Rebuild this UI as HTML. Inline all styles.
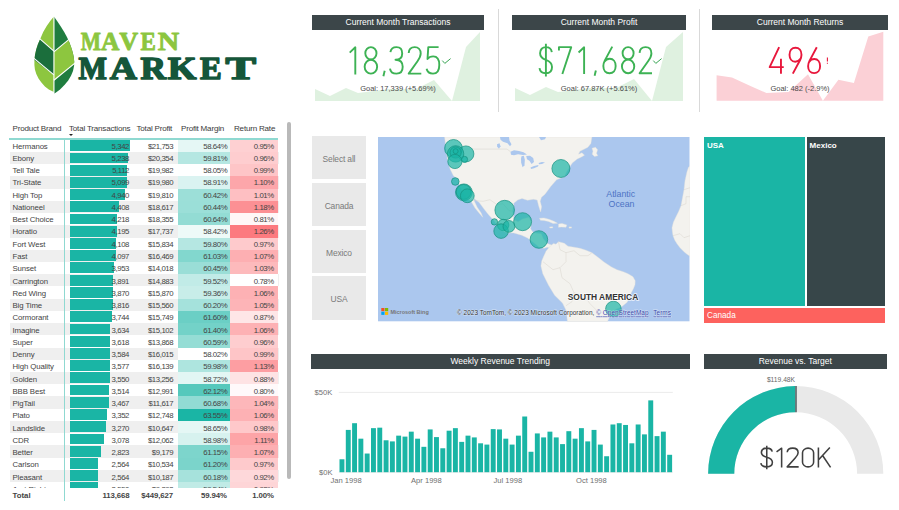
<!DOCTYPE html>
<html><head><meta charset="utf-8"><title>Maven Market</title>
<style>
html,body{margin:0;padding:0;background:#fff;}
body{width:899px;height:510px;position:relative;overflow:hidden;font-family:"Liberation Sans",sans-serif;color:#333;}
.abs{position:absolute;}
.tbar{position:absolute;background:#3c4649;color:#fff;font-size:8.5px;text-align:center;line-height:14.6px;height:15px;}
.kv{position:absolute;text-align:center;font-size:39px;letter-spacing:-0.5px;white-space:nowrap;}
.kg{position:absolute;text-align:center;font-size:7.5px;color:#4a4a4a;white-space:nowrap;}
.row{position:absolute;left:10px;width:269px;height:12.22px;}
.c{position:absolute;top:0;height:12.22px;line-height:15px;font-size:7.8px;letter-spacing:-0.1px;white-space:nowrap;color:#444;}
.n{letter-spacing:-0.42px;}
.r{text-align:right;}
.sl{position:absolute;left:312.1px;width:53.8px;background:#e9e9e9;color:#7a7a7a;font-size:8.45px;letter-spacing:-0.15px;text-align:center;}
</style></head><body>

<svg class="abs" style="left:0;top:0" width="300" height="110" viewBox="0 0 300 110">
<defs><clipPath id="lh"><polygon points="53.9,16.6 50.4,20.8 46.7,26 43.2,32 40.3,38.7 37.9,44.2 36.2,49.5 35,55 34.4,60.3 34.4,65 34.9,69.4 36.3,74 38.5,78.4 41.4,82.6 44.9,86.5 48.8,89.4 53.9,92"/></clipPath><clipPath id="rh"><polygon points="53.9,16.6 57.8,22 61.1,27 64.2,32 66.9,36.9 69.2,42 71,46.8 72.6,52 73.7,56.7 74.2,61.5 74.1,65.8 73,71 71,75.7 68.2,80.4 64.7,84.7 60,89.4 54.6,93.4 53.9,93.2"/></clipPath></defs>
<g clip-path="url(#lh)">
<rect x="30" y="10" width="24" height="90" fill="#8dc63f"/>
<polygon points="30,30.1 53.9,51.1 53.9,75 30,56.6" fill="#1b6e3c"/>
</g>
<g clip-path="url(#rh)">
<rect x="53.9" y="10" width="24" height="90" fill="#1f7d3f"/>
<polygon points="53.9,51.9 78,31.9 78,60.7 53.9,80.4" fill="#8dc63f"/>
</g>
<g stroke="#fff" stroke-width="1.1" fill="none">
<path d="M53.95,16 L53.95,94"/>
<path d="M36.5,35.8 L53.9,51.1 M31,55.9 L53.9,74.9"/>
<path d="M53.9,51.9 L72,36.9 M53.9,80.3 L78,60.6"/>
</g>
<g font-family="Liberation Serif, serif" font-weight="bold" font-size="24.8" fill="#8cc63f" stroke="#8cc63f" stroke-width="0.8" stroke-linejoin="round"><text x="80.7" y="50.1" textLength="20.2" lengthAdjust="spacingAndGlyphs">M</text><text x="101.1" y="50.1" textLength="18.5" lengthAdjust="spacingAndGlyphs">A</text><text x="119.2" y="50.1" textLength="18.9" lengthAdjust="spacingAndGlyphs">V</text><text x="140.5" y="50.1" textLength="15.4" lengthAdjust="spacingAndGlyphs">E</text><text x="157.7" y="50.1" textLength="21.5" lengthAdjust="spacingAndGlyphs">N</text></g>
<g font-family="Liberation Serif, serif" font-weight="bold" font-size="31.2" fill="#15563a" stroke="#15563a" stroke-width="1.5" stroke-linejoin="round"><text x="78.5" y="78.8" textLength="28.4" lengthAdjust="spacingAndGlyphs">M</text><text x="109.8" y="78.8" textLength="27.2" lengthAdjust="spacingAndGlyphs">A</text><text x="140.5" y="78.8" textLength="25.5" lengthAdjust="spacingAndGlyphs">R</text><text x="167.7" y="78.8" textLength="28.7" lengthAdjust="spacingAndGlyphs">K</text><text x="199.9" y="78.8" textLength="21.7" lengthAdjust="spacingAndGlyphs">E</text><text x="225.5" y="78.8" textLength="30.5" lengthAdjust="spacingAndGlyphs">T</text></g>
</svg>
<div class="tbar" style="left:312px;top:15px;width:172px;">Current Month Transactions</div>
<svg class="abs" style="left:312px;top:30px" width="172" height="75" viewBox="0 0 172 75"><polygon points="3,59 18,66 34,58 46,63 62,61 77,59 104,59 122,50 140,71 154,17 168,2 168,71 3,71" fill="#dff1e0"/></svg>
<svg class="abs" style="left:0;top:0" width="899" height="110" viewBox="0 0 899 110"><g fill="none" stroke="#3db254" stroke-width="1.9" stroke-linejoin="round"><g transform="translate(349.1,46.4) scale(1.0000,1.0000)"><path d="M0.6,6.2 L6.2,0.9 L6.2,28" vector-effect="non-scaling-stroke"/></g><g transform="translate(363.9,46.4) scale(1.0000,1.0000)"><ellipse cx="7" cy="6.95" rx="5.6" ry="6.2" vector-effect="non-scaling-stroke"/><ellipse cx="7" cy="20.3" rx="6.25" ry="6.95" vector-effect="non-scaling-stroke"/></g><g transform="translate(383.0,46.4) scale(1.0000,1.0000)"><path d="M1.7,24.4 L0.4,29.8" vector-effect="non-scaling-stroke"/></g><g transform="translate(389.5,46.4) scale(1.0000,1.0000)"><path d="M0.9,5.8 C1.4,2.4 3.8,0.75 7,0.75 C10.6,0.75 12.7,3.2 12.7,7 C12.7,11 10.2,13.3 6,13.3 C10.6,13.3 13.2,16 13.2,20.4 C13.2,24.8 10.6,27.25 7,27.25 C3.4,27.25 0.9,25.4 0.5,22.2" vector-effect="non-scaling-stroke"/></g><g transform="translate(407.7,46.4) scale(1.0000,1.0000)"><path d="M1,6.6 C1.2,2.8 3.7,0.75 7,0.75 C10.6,0.75 13,3.2 13,7.2 C13,10 11.8,12 9.8,14.8 L1,27.25 L13.6,27.25" vector-effect="non-scaling-stroke"/></g><g transform="translate(426.0,46.4) scale(1.0000,1.0000)"><path d="M12.6,0.75 L2.3,0.75 L1.5,12.6 C2.8,10.8 4.8,10 7.2,10 C11,10 13.3,13.2 13.3,18.6 C13.3,24 10.9,27.25 7,27.25 C3.5,27.25 1.2,25.4 0.6,22.4" vector-effect="non-scaling-stroke"/></g></g><path d="M442.3,60.6 L444.8,63.4 L450.6,58.6" fill="none" stroke="#3aa655" stroke-width="1"/></svg>
<div class="kg" style="left:312px;width:172px;top:83.6px;">Goal: 17,339 (+5.69%)</div>
<div class="tbar" style="left:512px;top:15px;width:174px;">Current Month Profit</div>
<svg class="abs" style="left:512px;top:30px" width="174" height="75" viewBox="0 0 174 75"><polygon points="3,58 18,65 34,57 46,62 62,60 77,58 104,58 122,49 140,71 154,17 171,2 171,71 3,71" fill="#dff1e0"/></svg>
<svg class="abs" style="left:0;top:0" width="899" height="110" viewBox="0 0 899 110"><g fill="none" stroke="#3db254" stroke-width="1.9" stroke-linejoin="round"><g transform="translate(539.0,46.4) scale(0.9857,0.9857)"><path d="M13,5.8 C12.5,2.5 10.2,0.75 7,0.75 C3.5,0.75 1.1,3 1.1,7 C1.1,10.8 3.4,12.4 7,13.7 C10.6,15 13.2,16.6 13.2,20.8 C13.2,25 10.6,27.25 7,27.25 C3.4,27.25 1,25.4 0.5,22 M7,-2.6 L7,30.6" vector-effect="non-scaling-stroke"/></g><g transform="translate(558.2,46.4) scale(0.9857,0.9857)"><path d="M0.75,4.2 L0.75,0.75 L13.2,0.75 L4.2,28" vector-effect="non-scaling-stroke"/></g><g transform="translate(578.0,46.4) scale(0.9857,0.9857)"><path d="M0.6,6.2 L6.2,0.9 L6.2,28" vector-effect="non-scaling-stroke"/></g><g transform="translate(594.2,46.4) scale(0.9857,0.9857)"><path d="M1.7,24.4 L0.4,29.8" vector-effect="non-scaling-stroke"/></g><g transform="translate(602.6,46.4) scale(0.9857,0.9857)"><path d="M9.8,0.2 L2.3,14.2 C1.2,16.4 0.75,18 0.75,20 C0.75,24.4 3.2,27.25 7,27.25 C10.8,27.25 13.25,24.4 13.25,20 C13.25,15.6 10.9,12.6 7.3,12.6 C4.6,12.6 2.9,13.8 1.8,15.6" vector-effect="non-scaling-stroke"/></g><g transform="translate(621.2,46.4) scale(0.9857,0.9857)"><ellipse cx="7" cy="6.95" rx="5.6" ry="6.2" vector-effect="non-scaling-stroke"/><ellipse cx="7" cy="20.3" rx="6.25" ry="6.95" vector-effect="non-scaling-stroke"/></g><g transform="translate(638.6,46.4) scale(0.9857,0.9857)"><path d="M1,6.6 C1.2,2.8 3.7,0.75 7,0.75 C10.6,0.75 13,3.2 13,7.2 C13,10 11.8,12 9.8,14.8 L1,27.25 L13.6,27.25" vector-effect="non-scaling-stroke"/></g></g><path d="M653.3,60.6 L655.8,63.4 L661.6,58.6" fill="none" stroke="#3aa655" stroke-width="1"/></svg>
<div class="kg" style="left:512px;width:174px;top:83.6px;">Goal: 67.87K (+5.61%)</div>
<div class="tbar" style="left:712px;top:15px;width:176px;">Current Month Returns</div>
<svg class="abs" style="left:712px;top:30px" width="176" height="75" viewBox="0 0 176 75"><polygon points="4.6,45.3 20,47.5 39,56.3 54.4,63 76.6,61.9 96,44.2 110.9,70.7 126.4,49.7 141.9,53 156.3,6.5 171.3,1.7 171.3,70.7 4.6,70.7" fill="#fbd0d6"/></svg>
<svg class="abs" style="left:0;top:0" width="899" height="110" viewBox="0 0 899 110"><g fill="none" stroke="#e8173c" stroke-width="1.9" stroke-linejoin="round"><g transform="translate(769.0,47) scale(0.9571,0.9571)"><path d="M10.6,0.2 L0.7,21 L15.4,21 M12.5,12.3 L12.5,28" vector-effect="non-scaling-stroke"/></g><g transform="translate(788.8,47) scale(0.9571,0.9571)"><g transform="rotate(180 7 14)"><path d="M9.8,0.2 L2.3,14.2 C1.2,16.4 0.75,18 0.75,20 C0.75,24.4 3.2,27.25 7,27.25 C10.8,27.25 13.25,24.4 13.25,20 C13.25,15.6 10.9,12.6 7.3,12.6 C4.6,12.6 2.9,13.8 1.8,15.6" vector-effect="non-scaling-stroke"/></g></g><g transform="translate(807.4,47) scale(0.9571,0.9571)"><path d="M9.8,0.2 L2.3,14.2 C1.2,16.4 0.75,18 0.75,20 C0.75,24.4 3.2,27.25 7,27.25 C10.8,27.25 13.25,24.4 13.25,20 C13.25,15.6 10.9,12.6 7.3,12.6 C4.6,12.6 2.9,13.8 1.8,15.6" vector-effect="non-scaling-stroke"/></g></g><path d="M827.4,57.6 L827.4,61.6 M827.4,62.8 L827.4,63.8" fill="none" stroke="#e8173c" stroke-width="1.1"/></svg>
<div class="kg" style="left:712px;width:176px;top:83.6px;">Goal: 482 (-2.9%)</div>
<div class="abs" style="left:497.9px;top:9px;width:1px;height:103px;background:#d9d9d9"></div>
<div class="abs" style="left:698.7px;top:9px;width:1px;height:103px;background:#d9d9d9"></div>
<div class="abs" style="left:10px;top:121px;width:270px;height:18px;font-size:8.05px;letter-spacing:-0.2px;color:#3a3a3a;">
<span class="abs" style="left:2.5px;top:3px;white-space:nowrap">Product Brand</span>
<span class="abs" style="left:59px;top:3px;white-space:nowrap">Total Transactions</span>
<span class="abs" style="left:126.5px;top:3px;white-space:nowrap">Total Profit</span>
<span class="abs" style="left:171px;top:3px;white-space:nowrap">Profit Margin</span>
<span class="abs" style="left:224px;top:3px;white-space:nowrap">Return Rate</span>
<span class="abs" style="left:58.9px;top:13.1px;width:0;height:0;border-left:2.4px solid transparent;border-right:2.4px solid transparent;border-top:2.6px solid #222"></span>
</div>
<div class="abs" style="left:8.5px;top:138.3px;width:269.4px;height:1.4px;background:#8fd9d1"></div>
<div class="abs" style="left:0;top:139.8px;width:285px;height:348.59999999999997px;overflow:hidden">
<div class="row" style="top:0.00px;background:#ffffff">
<div class="abs" style="left:59.7px;top:0.5px;width:60.0px;height:10.8px;background:#1ab5a5"></div>
<div class="abs" style="left:168px;top:0;width:52.1px;height:12.22px;background:#e5f7f5"></div>
<div class="abs" style="left:220.1px;top:0;width:47.7px;height:12.22px;background:#fed0d2"></div>
<div class="c" style="left:2.5px;top:-1.20px">Hermanos</div>
<div class="c r n" style="left:59px;width:60px;top:-1.20px">5,342</div>
<div class="c r n" style="left:120px;width:43.2px;top:-1.20px">$21,753</div>
<div class="c r n" style="left:168px;width:49.2px;top:-1.20px">58.64%</div>
<div class="c r n" style="left:220.1px;width:43.7px;top:-1.20px">0.95%</div>
</div>
<div class="row" style="top:12.22px;background:#efefef">
<div class="abs" style="left:59.7px;top:0.5px;width:58.8px;height:10.8px;background:#1ab5a5"></div>
<div class="abs" style="left:168px;top:0;width:52.1px;height:12.22px;background:#b5e7e2"></div>
<div class="abs" style="left:220.1px;top:0;width:47.7px;height:12.22px;background:#fecdcf"></div>
<div class="c" style="left:2.5px;top:-1.16px">Ebony</div>
<div class="c r n" style="left:59px;width:60px;top:-1.16px">5,238</div>
<div class="c r n" style="left:120px;width:43.2px;top:-1.16px">$20,354</div>
<div class="c r n" style="left:168px;width:49.2px;top:-1.16px">59.81%</div>
<div class="c r n" style="left:220.1px;width:43.7px;top:-1.16px">0.96%</div>
</div>
<div class="row" style="top:24.44px;background:#ffffff">
<div class="abs" style="left:59.7px;top:0.5px;width:57.4px;height:10.8px;background:#1ab5a5"></div>
<div class="abs" style="left:168px;top:0;width:52.1px;height:12.22px;background:#feffff"></div>
<div class="abs" style="left:220.1px;top:0;width:47.7px;height:12.22px;background:#fec5c7"></div>
<div class="c" style="left:2.5px;top:-1.11px">Tell Tale</div>
<div class="c r n" style="left:59px;width:60px;top:-1.11px">5,112</div>
<div class="c r n" style="left:120px;width:43.2px;top:-1.11px">$19,982</div>
<div class="c r n" style="left:168px;width:49.2px;top:-1.11px">58.05%</div>
<div class="c r n" style="left:220.1px;width:43.7px;top:-1.11px">0.99%</div>
</div>
<div class="row" style="top:36.66px;background:#efefef">
<div class="abs" style="left:59.7px;top:0.5px;width:57.3px;height:10.8px;background:#1ab5a5"></div>
<div class="abs" style="left:168px;top:0;width:52.1px;height:12.22px;background:#daf3f1"></div>
<div class="abs" style="left:220.1px;top:0;width:47.7px;height:12.22px;background:#fda6aa"></div>
<div class="c" style="left:2.5px;top:-1.07px">Tri-State</div>
<div class="c r n" style="left:59px;width:60px;top:-1.07px">5,099</div>
<div class="c r n" style="left:120px;width:43.2px;top:-1.07px">$19,980</div>
<div class="c r n" style="left:168px;width:49.2px;top:-1.07px">58.91%</div>
<div class="c r n" style="left:220.1px;width:43.7px;top:-1.07px">1.10%</div>
</div>
<div class="row" style="top:48.88px;background:#ffffff">
<div class="abs" style="left:59.7px;top:0.5px;width:55.5px;height:10.8px;background:#1ab5a5"></div>
<div class="abs" style="left:168px;top:0;width:52.1px;height:12.22px;background:#9cdfd8"></div>
<div class="abs" style="left:220.1px;top:0;width:47.7px;height:12.22px;background:#febfc2"></div>
<div class="c" style="left:2.5px;top:-1.02px">High Top</div>
<div class="c r n" style="left:59px;width:60px;top:-1.02px">4,940</div>
<div class="c r n" style="left:120px;width:43.2px;top:-1.02px">$19,810</div>
<div class="c r n" style="left:168px;width:49.2px;top:-1.02px">60.42%</div>
<div class="c r n" style="left:220.1px;width:43.7px;top:-1.02px">1.01%</div>
</div>
<div class="row" style="top:61.10px;background:#efefef">
<div class="abs" style="left:59.7px;top:0.5px;width:49.5px;height:10.8px;background:#1ab5a5"></div>
<div class="abs" style="left:168px;top:0;width:52.1px;height:12.22px;background:#9bdfd8"></div>
<div class="abs" style="left:220.1px;top:0;width:47.7px;height:12.22px;background:#fc9094"></div>
<div class="c" style="left:2.5px;top:-0.98px">Nationeel</div>
<div class="c r n" style="left:59px;width:60px;top:-0.98px">4,408</div>
<div class="c r n" style="left:120px;width:43.2px;top:-0.98px">$18,617</div>
<div class="c r n" style="left:168px;width:49.2px;top:-0.98px">60.44%</div>
<div class="c r n" style="left:220.1px;width:43.7px;top:-0.98px">1.18%</div>
</div>
<div class="row" style="top:73.32px;background:#ffffff">
<div class="abs" style="left:59.7px;top:0.5px;width:47.4px;height:10.8px;background:#1ab5a5"></div>
<div class="abs" style="left:168px;top:0;width:52.1px;height:12.22px;background:#93dcd4"></div>
<div class="abs" style="left:220.1px;top:0;width:47.7px;height:12.22px;background:#fff7f7"></div>
<div class="c" style="left:2.5px;top:-0.93px">Best Choice</div>
<div class="c r n" style="left:59px;width:60px;top:-0.93px">4,218</div>
<div class="c r n" style="left:120px;width:43.2px;top:-0.93px">$18,355</div>
<div class="c r n" style="left:168px;width:49.2px;top:-0.93px">60.64%</div>
<div class="c r n" style="left:220.1px;width:43.7px;top:-0.93px">0.81%</div>
</div>
<div class="row" style="top:85.54px;background:#efefef">
<div class="abs" style="left:59.7px;top:0.5px;width:47.1px;height:10.8px;background:#1ab5a5"></div>
<div class="abs" style="left:168px;top:0;width:52.1px;height:12.22px;background:#eefaf8"></div>
<div class="abs" style="left:220.1px;top:0;width:47.7px;height:12.22px;background:#fc7a7f"></div>
<div class="c" style="left:2.5px;top:-0.89px">Horatio</div>
<div class="c r n" style="left:59px;width:60px;top:-0.89px">4,195</div>
<div class="c r n" style="left:120px;width:43.2px;top:-0.89px">$17,737</div>
<div class="c r n" style="left:168px;width:49.2px;top:-0.89px">58.42%</div>
<div class="c r n" style="left:220.1px;width:43.7px;top:-0.89px">1.26%</div>
</div>
<div class="row" style="top:97.76px;background:#ffffff">
<div class="abs" style="left:59.7px;top:0.5px;width:46.1px;height:10.8px;background:#1ab5a5"></div>
<div class="abs" style="left:168px;top:0;width:52.1px;height:12.22px;background:#b5e7e2"></div>
<div class="abs" style="left:220.1px;top:0;width:47.7px;height:12.22px;background:#fecacc"></div>
<div class="c" style="left:2.5px;top:-0.84px">Fort West</div>
<div class="c r n" style="left:59px;width:60px;top:-0.84px">4,108</div>
<div class="c r n" style="left:120px;width:43.2px;top:-0.84px">$15,834</div>
<div class="c r n" style="left:168px;width:49.2px;top:-0.84px">59.80%</div>
<div class="c r n" style="left:220.1px;width:43.7px;top:-0.84px">0.97%</div>
</div>
<div class="row" style="top:109.98px;background:#efefef">
<div class="abs" style="left:59.7px;top:0.5px;width:46.0px;height:10.8px;background:#1ab5a5"></div>
<div class="abs" style="left:168px;top:0;width:52.1px;height:12.22px;background:#82d7ce"></div>
<div class="abs" style="left:220.1px;top:0;width:47.7px;height:12.22px;background:#fdafb2"></div>
<div class="c" style="left:2.5px;top:-0.80px">Fast</div>
<div class="c r n" style="left:59px;width:60px;top:-0.80px">4,097</div>
<div class="c r n" style="left:120px;width:43.2px;top:-0.80px">$16,469</div>
<div class="c r n" style="left:168px;width:49.2px;top:-0.80px">61.03%</div>
<div class="c r n" style="left:220.1px;width:43.7px;top:-0.80px">1.07%</div>
</div>
<div class="row" style="top:122.20px;background:#ffffff">
<div class="abs" style="left:59.7px;top:0.5px;width:44.4px;height:10.8px;background:#1ab5a5"></div>
<div class="abs" style="left:168px;top:0;width:52.1px;height:12.22px;background:#9aded7"></div>
<div class="abs" style="left:220.1px;top:0;width:47.7px;height:12.22px;background:#fdbabc"></div>
<div class="c" style="left:2.5px;top:-0.76px">Sunset</div>
<div class="c r n" style="left:59px;width:60px;top:-0.76px">3,953</div>
<div class="c r n" style="left:120px;width:43.2px;top:-0.76px">$14,018</div>
<div class="c r n" style="left:168px;width:49.2px;top:-0.76px">60.45%</div>
<div class="c r n" style="left:220.1px;width:43.7px;top:-0.76px">1.03%</div>
</div>
<div class="row" style="top:134.42px;background:#efefef">
<div class="abs" style="left:59.7px;top:0.5px;width:43.7px;height:10.8px;background:#1ab5a5"></div>
<div class="abs" style="left:168px;top:0;width:52.1px;height:12.22px;background:#c1ebe7"></div>
<div class="abs" style="left:220.1px;top:0;width:47.7px;height:12.22px;background:#ffffff"></div>
<div class="c" style="left:2.5px;top:-0.71px">Carrington</div>
<div class="c r n" style="left:59px;width:60px;top:-0.71px">3,891</div>
<div class="c r n" style="left:120px;width:43.2px;top:-0.71px">$14,883</div>
<div class="c r n" style="left:168px;width:49.2px;top:-0.71px">59.52%</div>
<div class="c r n" style="left:220.1px;width:43.7px;top:-0.71px">0.78%</div>
</div>
<div class="row" style="top:146.64px;background:#ffffff">
<div class="abs" style="left:59.7px;top:0.5px;width:43.5px;height:10.8px;background:#1ab5a5"></div>
<div class="abs" style="left:168px;top:0;width:52.1px;height:12.22px;background:#c8ede9"></div>
<div class="abs" style="left:220.1px;top:0;width:47.7px;height:12.22px;background:#fdb1b4"></div>
<div class="c" style="left:2.5px;top:-0.67px">Red Wing</div>
<div class="c r n" style="left:59px;width:60px;top:-0.67px">3,870</div>
<div class="c r n" style="left:120px;width:43.2px;top:-0.67px">$15,870</div>
<div class="c r n" style="left:168px;width:49.2px;top:-0.67px">59.36%</div>
<div class="c r n" style="left:220.1px;width:43.7px;top:-0.67px">1.06%</div>
</div>
<div class="row" style="top:158.86px;background:#efefef">
<div class="abs" style="left:59.7px;top:0.5px;width:42.9px;height:10.8px;background:#1ab5a5"></div>
<div class="abs" style="left:168px;top:0;width:52.1px;height:12.22px;background:#a5e2dc"></div>
<div class="abs" style="left:220.1px;top:0;width:47.7px;height:12.22px;background:#fdb4b7"></div>
<div class="c" style="left:2.5px;top:-0.62px">Big Time</div>
<div class="c r n" style="left:59px;width:60px;top:-0.62px">3,816</div>
<div class="c r n" style="left:120px;width:43.2px;top:-0.62px">$15,560</div>
<div class="c r n" style="left:168px;width:49.2px;top:-0.62px">60.20%</div>
<div class="c r n" style="left:220.1px;width:43.7px;top:-0.62px">1.05%</div>
</div>
<div class="row" style="top:171.08px;background:#ffffff">
<div class="abs" style="left:59.7px;top:0.5px;width:42.1px;height:10.8px;background:#1ab5a5"></div>
<div class="abs" style="left:168px;top:0;width:52.1px;height:12.22px;background:#6bcfc5"></div>
<div class="abs" style="left:220.1px;top:0;width:47.7px;height:12.22px;background:#fee6e7"></div>
<div class="c" style="left:2.5px;top:-0.58px">Cormorant</div>
<div class="c r n" style="left:59px;width:60px;top:-0.58px">3,744</div>
<div class="c r n" style="left:120px;width:43.2px;top:-0.58px">$15,749</div>
<div class="c r n" style="left:168px;width:49.2px;top:-0.58px">61.60%</div>
<div class="c r n" style="left:220.1px;width:43.7px;top:-0.58px">0.87%</div>
</div>
<div class="row" style="top:183.30px;background:#efefef">
<div class="abs" style="left:59.7px;top:0.5px;width:40.8px;height:10.8px;background:#1ab5a5"></div>
<div class="abs" style="left:168px;top:0;width:52.1px;height:12.22px;background:#73d2c8"></div>
<div class="abs" style="left:220.1px;top:0;width:47.7px;height:12.22px;background:#fdb1b4"></div>
<div class="c" style="left:2.5px;top:-0.53px">Imagine</div>
<div class="c r n" style="left:59px;width:60px;top:-0.53px">3,634</div>
<div class="c r n" style="left:120px;width:43.2px;top:-0.53px">$15,102</div>
<div class="c r n" style="left:168px;width:49.2px;top:-0.53px">61.40%</div>
<div class="c r n" style="left:220.1px;width:43.7px;top:-0.53px">1.06%</div>
</div>
<div class="row" style="top:195.52px;background:#ffffff">
<div class="abs" style="left:59.7px;top:0.5px;width:40.6px;height:10.8px;background:#1ab5a5"></div>
<div class="abs" style="left:168px;top:0;width:52.1px;height:12.22px;background:#95ddd5"></div>
<div class="abs" style="left:220.1px;top:0;width:47.7px;height:12.22px;background:#fecdcf"></div>
<div class="c" style="left:2.5px;top:-0.49px">Super</div>
<div class="c r n" style="left:59px;width:60px;top:-0.49px">3,618</div>
<div class="c r n" style="left:120px;width:43.2px;top:-0.49px">$13,868</div>
<div class="c r n" style="left:168px;width:49.2px;top:-0.49px">60.59%</div>
<div class="c r n" style="left:220.1px;width:43.7px;top:-0.49px">0.96%</div>
</div>
<div class="row" style="top:207.74px;background:#efefef">
<div class="abs" style="left:59.7px;top:0.5px;width:40.3px;height:10.8px;background:#1ab5a5"></div>
<div class="abs" style="left:168px;top:0;width:52.1px;height:12.22px;background:#ffffff"></div>
<div class="abs" style="left:220.1px;top:0;width:47.7px;height:12.22px;background:#fec5c7"></div>
<div class="c" style="left:2.5px;top:-0.44px">Denny</div>
<div class="c r n" style="left:59px;width:60px;top:-0.44px">3,584</div>
<div class="c r n" style="left:120px;width:43.2px;top:-0.44px">$16,015</div>
<div class="c r n" style="left:168px;width:49.2px;top:-0.44px">58.02%</div>
<div class="c r n" style="left:220.1px;width:43.7px;top:-0.44px">0.99%</div>
</div>
<div class="row" style="top:219.96px;background:#ffffff">
<div class="abs" style="left:59.7px;top:0.5px;width:40.2px;height:10.8px;background:#1ab5a5"></div>
<div class="abs" style="left:168px;top:0;width:52.1px;height:12.22px;background:#aee5df"></div>
<div class="abs" style="left:220.1px;top:0;width:47.7px;height:12.22px;background:#fd9ea2"></div>
<div class="c" style="left:2.5px;top:-0.40px">High Quality</div>
<div class="c r n" style="left:59px;width:60px;top:-0.40px">3,577</div>
<div class="c r n" style="left:120px;width:43.2px;top:-0.40px">$16,139</div>
<div class="c r n" style="left:168px;width:49.2px;top:-0.40px">59.98%</div>
<div class="c r n" style="left:220.1px;width:43.7px;top:-0.40px">1.13%</div>
</div>
<div class="row" style="top:232.18px;background:#efefef">
<div class="abs" style="left:59.7px;top:0.5px;width:39.9px;height:10.8px;background:#1ab5a5"></div>
<div class="abs" style="left:168px;top:0;width:52.1px;height:12.22px;background:#e2f6f4"></div>
<div class="abs" style="left:220.1px;top:0;width:47.7px;height:12.22px;background:#fee3e4"></div>
<div class="c" style="left:2.5px;top:-0.36px">Golden</div>
<div class="c r n" style="left:59px;width:60px;top:-0.36px">3,550</div>
<div class="c r n" style="left:120px;width:43.2px;top:-0.36px">$13,256</div>
<div class="c r n" style="left:168px;width:49.2px;top:-0.36px">58.72%</div>
<div class="c r n" style="left:220.1px;width:43.7px;top:-0.36px">0.88%</div>
</div>
<div class="row" style="top:244.40px;background:#ffffff">
<div class="abs" style="left:59.7px;top:0.5px;width:39.5px;height:10.8px;background:#1ab5a5"></div>
<div class="abs" style="left:168px;top:0;width:52.1px;height:12.22px;background:#55c8bc"></div>
<div class="abs" style="left:220.1px;top:0;width:47.7px;height:12.22px;background:#fff9fa"></div>
<div class="c" style="left:2.5px;top:-0.31px">BBB Best</div>
<div class="c r n" style="left:59px;width:60px;top:-0.31px">3,514</div>
<div class="c r n" style="left:120px;width:43.2px;top:-0.31px">$12,991</div>
<div class="c r n" style="left:168px;width:49.2px;top:-0.31px">62.12%</div>
<div class="c r n" style="left:220.1px;width:43.7px;top:-0.31px">0.80%</div>
</div>
<div class="row" style="top:256.62px;background:#efefef">
<div class="abs" style="left:59.7px;top:0.5px;width:38.9px;height:10.8px;background:#1ab5a5"></div>
<div class="abs" style="left:168px;top:0;width:52.1px;height:12.22px;background:#91dbd4"></div>
<div class="abs" style="left:220.1px;top:0;width:47.7px;height:12.22px;background:#fdb7ba"></div>
<div class="c" style="left:2.5px;top:-0.27px">PigTail</div>
<div class="c r n" style="left:59px;width:60px;top:-0.27px">3,467</div>
<div class="c r n" style="left:120px;width:43.2px;top:-0.27px">$11,617</div>
<div class="c r n" style="left:168px;width:49.2px;top:-0.27px">60.68%</div>
<div class="c r n" style="left:220.1px;width:43.7px;top:-0.27px">1.04%</div>
</div>
<div class="row" style="top:268.84px;background:#ffffff">
<div class="abs" style="left:59.7px;top:0.5px;width:37.6px;height:10.8px;background:#1ab5a5"></div>
<div class="abs" style="left:168px;top:0;width:52.1px;height:12.22px;background:#1ab5a5"></div>
<div class="abs" style="left:220.1px;top:0;width:47.7px;height:12.22px;background:#fdb1b4"></div>
<div class="c" style="left:2.5px;top:-0.22px">Plato</div>
<div class="c r n" style="left:59px;width:60px;top:-0.22px">3,352</div>
<div class="c r n" style="left:120px;width:43.2px;top:-0.22px">$12,748</div>
<div class="c r n" style="left:168px;width:49.2px;top:-0.22px">63.55%</div>
<div class="c r n" style="left:220.1px;width:43.7px;top:-0.22px">1.06%</div>
</div>
<div class="row" style="top:281.06px;background:#efefef">
<div class="abs" style="left:59.7px;top:0.5px;width:36.7px;height:10.8px;background:#1ab5a5"></div>
<div class="abs" style="left:168px;top:0;width:52.1px;height:12.22px;background:#e5f7f5"></div>
<div class="abs" style="left:220.1px;top:0;width:47.7px;height:12.22px;background:#fec8ca"></div>
<div class="c" style="left:2.5px;top:-0.18px">Landslide</div>
<div class="c r n" style="left:59px;width:60px;top:-0.18px">3,270</div>
<div class="c r n" style="left:120px;width:43.2px;top:-0.18px">$10,647</div>
<div class="c r n" style="left:168px;width:49.2px;top:-0.18px">58.65%</div>
<div class="c r n" style="left:220.1px;width:43.7px;top:-0.18px">0.98%</div>
</div>
<div class="row" style="top:293.28px;background:#ffffff">
<div class="abs" style="left:59.7px;top:0.5px;width:34.6px;height:10.8px;background:#1ab5a5"></div>
<div class="abs" style="left:168px;top:0;width:52.1px;height:12.22px;background:#d7f2ef"></div>
<div class="abs" style="left:220.1px;top:0;width:47.7px;height:12.22px;background:#fda4a7"></div>
<div class="c" style="left:2.5px;top:-0.13px">CDR</div>
<div class="c r n" style="left:59px;width:60px;top:-0.13px">3,078</div>
<div class="c r n" style="left:120px;width:43.2px;top:-0.13px">$12,062</div>
<div class="c r n" style="left:168px;width:49.2px;top:-0.13px">58.98%</div>
<div class="c r n" style="left:220.1px;width:43.7px;top:-0.13px">1.11%</div>
</div>
<div class="row" style="top:305.50px;background:#efefef">
<div class="abs" style="left:59.7px;top:0.5px;width:31.7px;height:10.8px;background:#1ab5a5"></div>
<div class="abs" style="left:168px;top:0;width:52.1px;height:12.22px;background:#7dd5cc"></div>
<div class="abs" style="left:220.1px;top:0;width:47.7px;height:12.22px;background:#fdafb2"></div>
<div class="c" style="left:2.5px;top:-0.09px">Better</div>
<div class="c r n" style="left:59px;width:60px;top:-0.09px">2,823</div>
<div class="c r n" style="left:120px;width:43.2px;top:-0.09px">$9,179</div>
<div class="c r n" style="left:168px;width:49.2px;top:-0.09px">61.15%</div>
<div class="c r n" style="left:220.1px;width:43.7px;top:-0.09px">1.07%</div>
</div>
<div class="row" style="top:317.72px;background:#ffffff">
<div class="abs" style="left:59.7px;top:0.5px;width:28.8px;height:10.8px;background:#1ab5a5"></div>
<div class="abs" style="left:168px;top:0;width:52.1px;height:12.22px;background:#7bd4cb"></div>
<div class="abs" style="left:220.1px;top:0;width:47.7px;height:12.22px;background:#fecacc"></div>
<div class="c" style="left:2.5px;top:-0.04px">Carlson</div>
<div class="c r n" style="left:59px;width:60px;top:-0.04px">2,564</div>
<div class="c r n" style="left:120px;width:43.2px;top:-0.04px">$10,534</div>
<div class="c r n" style="left:168px;width:49.2px;top:-0.04px">61.20%</div>
<div class="c r n" style="left:220.1px;width:43.7px;top:-0.04px">0.97%</div>
</div>
<div class="row" style="top:329.94px;background:#efefef">
<div class="abs" style="left:59.7px;top:0.5px;width:28.8px;height:10.8px;background:#1ab5a5"></div>
<div class="abs" style="left:168px;top:0;width:52.1px;height:12.22px;background:#a6e2dc"></div>
<div class="abs" style="left:220.1px;top:0;width:47.7px;height:12.22px;background:#fed8da"></div>
<div class="c" style="left:2.5px;top:0.00px">Pleasant</div>
<div class="c r n" style="left:59px;width:60px;top:0.00px">2,564</div>
<div class="c r n" style="left:120px;width:43.2px;top:0.00px">$10,187</div>
<div class="c r n" style="left:168px;width:49.2px;top:0.00px">60.18%</div>
<div class="c r n" style="left:220.1px;width:43.7px;top:0.00px">0.92%</div>
</div>
<div class="row" style="top:342.16px;background:#ffffff">
<div class="abs" style="left:59.7px;top:0.5px;width:28.6px;height:10.8px;background:#1ab5a5"></div>
<div class="abs" style="left:168px;top:0;width:52.1px;height:12.22px;background:#c0ebe6"></div>
<div class="abs" style="left:220.1px;top:0;width:47.7px;height:12.22px;background:#fed5d7"></div>
<div class="c" style="left:2.5px;top:0.04px">Just Right</div>
<div class="c r n" style="left:59px;width:60px;top:0.04px">2,550</div>
<div class="c r n" style="left:120px;width:43.2px;top:0.04px">$9,293</div>
<div class="c r n" style="left:168px;width:49.2px;top:0.04px">59.54%</div>
<div class="c r n" style="left:220.1px;width:43.7px;top:0.04px">0.93%</div>
</div>
</div>
<div class="abs" style="left:63.7px;top:139.5px;width:1.2px;height:361px;background:#8fd9d1"></div>
<div class="row" style="top:487.9px;font-weight:bold;letter-spacing:0">
<div class="c" style="left:2.5px;font-weight:bold;letter-spacing:0">Total</div>
<div class="c r n" style="left:59px;width:60.5px;font-weight:bold;letter-spacing:-0.1px">113,668</div>
<div class="c r n" style="left:120px;width:43px;font-weight:bold;letter-spacing:-0.1px">$449,627</div>
<div class="c r n" style="left:167.6px;width:49.2px;font-weight:bold;letter-spacing:-0.1px">59.94%</div>
<div class="c r n" style="left:220.6px;width:43.2px;font-weight:bold;letter-spacing:-0.1px">1.00%</div>
</div>
<div class="abs" style="left:287.3px;top:122px;width:3.4px;height:357px;background:#b9b9b9;border-radius:2px"></div>
<div class="sl" style="top:135.9px;height:43.5px;line-height:46.9px;overflow:hidden">Select all</div>
<div class="sl" style="top:183px;height:43.3px;line-height:46.7px;overflow:hidden">Canada</div>
<div class="sl" style="top:229.6px;height:43.4px;line-height:46.8px;overflow:hidden">Mexico</div>
<div class="sl" style="top:276.2px;height:43.9px;line-height:47.3px;overflow:hidden">USA</div>
<svg class="abs" style="left:378px;top:137.3px" width="311.5" height="184.3" viewBox="0 0 311.5 184.3">
<rect width="311.5" height="184.3" fill="#abc7ee"/>
<g fill="#f3f2ee" stroke="#e4e1da" stroke-width="0.4">
<polygon points="66.6,0.0 67.6,8.4 69.5,22.1 72.1,31.9 75.4,38.8 80.3,42.7 81.7,49.6 89.2,61.3 93.0,64.3 97.0,71.1 101.9,77.0 104.8,80.3 103.2,76.0 99.2,70.2 96.4,64.3 95.6,61.3 101.0,65.2 106.8,73.1 111.0,78.2 116.2,83.9 119.5,88.7 122.1,93.1 129.9,96.1 135.8,95.9 143.7,98.3 149.5,100.9 155.4,105.4 161.3,110.3 166.2,111.3 169.2,110.3 171.0,110.7 175.0,108.4 169.2,106.4 165.2,101.5 163.3,96.7 155.4,95.7 152.5,91.7 153.5,84.9 151.0,80.3 144.6,81.9 140.0,84.7 136.0,82.7 134.6,74.1 135.8,66.3 139.7,62.9 144.0,61.5 149.5,63.3 155.4,62.3 159.2,63.1 160.6,68.7 162.6,74.9 163.6,69.7 162.2,64.3 163.5,60.2 166.8,57.4 172.7,49.6 178.6,42.7 186.4,39.7 188.4,35.2 190.3,31.9 194.3,26.0 199.2,22.1 203.0,20.2 206.5,18.2 204.0,15.7 200.5,17.2 202.0,14.2 206.0,12.3 209.9,10.3 212.9,6.4 213.9,0.0" /><polygon points="171.0,110.5 175.4,106.4 178.0,107.2 180.5,104.7 186.4,106.3 190.0,109.2 196.2,110.2 202.0,111.3 208.0,113.2 214.0,115.7 219.7,120.1 226.0,125.1 233.5,129.9 239.0,132.7 245.2,134.7 250.0,136.7 255.0,139.7 257.2,143.7 257.0,147.7 255.4,151.7 253.0,156.3 251.4,160.7 249.2,165.2 243.3,170.1 239.0,171.7 235.4,174.0 233.0,177.2 231.5,179.9 229.5,184.6 189.4,184.6 188.4,174.0 184.5,166.1 176.6,158.3 170.7,148.5 164.8,136.7 162.9,128.9 163.8,123.7 165.8,119.1 168.0,114.2" /><polygon points="312.2,28.7 310.5,30.2 309.0,34.7 307.0,43.7 306.0,52.7 304.5,60.7 303.0,68.7 300.5,74.7 298.0,79.7 295.4,85.2 294.0,90.7 294.4,94.7 295.0,98.7 296.8,103.2 299.0,106.7 302.0,110.7 306.0,114.7 309.0,117.2 312.2,119.3" /><polygon points="214.0,11.2 217.5,10.3 219.6,12.7 218.5,16.2 219.8,18.7 216.5,19.5 214.2,17.2 215.0,14.2" /><polygon points="161.5,81.3 166.0,80.9 171.0,82.3 176.0,84.3 179.5,86.3 175.0,86.5 170.5,84.5 166.0,83.5 162.5,83.3" /><polygon points="180.6,87.0 184.0,86.5 188.8,87.9 188.0,90.3 183.5,90.1 180.5,90.3" /><polygon points="171.5,89.9 174.5,89.7 174.8,90.9 172.0,91.1" /><polygon points="191.0,89.9 193.5,89.9 193.5,91.1 191.0,91.1" />
</g><g fill="#abc7ee">
<polygon points="132.5,14.7 136.0,13.2 141.0,13.9 145.5,15.3 149.0,17.5 145.0,18.1 140.0,17.3 136.0,18.3 133.0,17.7" /><polygon points="143.5,19.3 145.8,18.7 146.8,22.7 146.5,28.2 144.6,30.2 143.2,25.7 143.0,21.7" /><polygon points="148.2,19.1 152.0,18.7 155.2,21.1 156.0,25.1 153.6,26.9 151.4,23.7 149.0,22.3" /><polygon points="152.5,30.5 156.0,29.1 160.5,28.1 160.0,29.5 156.0,31.3 153.0,31.9" /><polygon points="160.6,25.9 164.0,25.1 167.0,25.5 164.0,27.1 161.0,27.3" /><polygon points="122.0,0.0 131.0,0.0 131.5,3.7 133.5,7.2 132.0,9.2 129.5,6.2 125.0,4.7 122.5,2.7" /><polygon points="161.0,0.0 168.0,0.0 167.0,2.2 163.0,3.2" /><polygon points="119.0,7.2 121.5,6.2 122.5,9.2 121.0,11.7 119.2,9.7" />
</g><g fill="none" stroke="#d9d5cd" stroke-width="0.5">
<path d="M68,12.099999999999994 L129,12.099999999999994 L132.5,14.699999999999989"/>
<path d="M93,63.29999999999998 L105,64.29999999999998 L112,62.69999999999999 L119,67.69999999999999 L125,66.69999999999999 L131,73.69999999999999 L135,74.19999999999999"/>
<path d="M180.5,104.69999999999999 L182,112.69999999999999 L188,115.69999999999999 L188,124.69999999999999 L182,130.7 L175,132.7 L170,128.7 L165,124.69999999999999"/>
<path d="M188,115.69999999999999 L196,113.69999999999999 L202,118.69999999999999 L210,118.69999999999999 L214,115.69999999999999"/>
<path d="M182,130.7 L184,140.7 L192,146.7 L196,155.7 L194,164.7 L188,168.7"/>
<path d="M196,155.7 L206,158.7 L212,166.7 L218,172.7 L222,180.7"/>
<path d="M306,52.69999999999999 L312,50.69999999999999 M303,68.69999999999999 L308,66.69999999999999 L308,59.69999999999999 L312,59.69999999999999 M295,98.69999999999999 L302,96.69999999999999 L306,100.69999999999999 L312,98.69999999999999"/>
</g>
<g fill="#1ab5a5" fill-opacity="0.7" stroke="#16917f" stroke-width="0.7">
<circle cx="75.5" cy="11.4" r="8.9"/>
<circle cx="87.9" cy="16.9" r="8.0"/>
<circle cx="77.6" cy="16.9" r="8.2"/>
<circle cx="77.6" cy="15.5" r="5.6"/>
<circle cx="76.9" cy="24.5" r="7.1"/>
<circle cx="86.5" cy="22.4" r="3.1"/>
<circle cx="77.6" cy="14.2" r="2.5"/>
<circle cx="77.3" cy="44.5" r="3.8"/>
<circle cx="85.9" cy="55.3" r="8.4"/>
<circle cx="85.6" cy="54.9" r="7.4"/>
<circle cx="89.3" cy="58.8" r="6.9"/>
<circle cx="126.7" cy="73.1" r="9.8"/>
<circle cx="144.6" cy="84.7" r="9"/>
<circle cx="116.4" cy="84.9" r="3.2"/>
<circle cx="125.2" cy="88.0" r="5.7"/>
<circle cx="123.1" cy="94.1" r="7.3"/>
<circle cx="130.9" cy="89.4" r="5.9"/>
<circle cx="160.9" cy="102.5" r="8.8"/>
<circle cx="182.9" cy="31.5" r="9"/>
<circle cx="235.4" cy="172.0" r="7.8"/>
</g>
<g font-family="Liberation Sans, sans-serif">
<text x="242.70000000000005" y="60.099999999999994" font-size="8.8" fill="#4b73c4" text-anchor="middle">Atlantic</text>
<text x="243.5" y="69.6" font-size="8.8" fill="#4b73c4" text-anchor="middle">Ocean</text>
<text x="225" y="163.3" font-size="8.4" font-weight="bold" fill="#333" stroke="#fff" stroke-width="1.6" stroke-opacity="0.8" paint-order="stroke" text-anchor="middle">SOUTH AMERICA</text>
<rect x="3.3000000000000114" y="171.0" width="3.2" height="3.2" fill="#f25022"/><rect x="7.0000000000000115" y="171.0" width="3.2" height="3.2" fill="#7fba00"/><rect x="3.3000000000000114" y="174.7" width="3.2" height="3.2" fill="#00a4ef"/><rect x="7.0000000000000115" y="174.7" width="3.2" height="3.2" fill="#ffb900"/>
<text x="12.399999999999977" y="176.7" font-size="5.5" fill="#767676" font-weight="bold">Microsoft Bing</text>
<text x="79" y="178.5" font-size="6.5" fill="#333" stroke="#fff" stroke-width="0.8" stroke-opacity="0.5" paint-order="stroke" textLength="214" lengthAdjust="spacing">© 2023 TomTom, © 2023 Microsoft Corporation, <tspan text-decoration="underline" fill="#3a46a8">© OpenStreetMap</tspan>  <tspan dx="3" text-decoration="underline" fill="#3a46a8">Terms</tspan></text>
</g>
</svg>
<div class="abs" style="left:703.8px;top:136.5px;width:101.4px;height:169.8px;background:#1ab5a5"></div>
<div class="abs" style="left:807px;top:136.5px;width:77.6px;height:169.8px;background:#374649"></div>
<div class="abs" style="left:703.8px;top:307.9px;width:180.8px;height:15.2px;background:#fd625e"></div>
<div class="abs" style="left:707px;top:141px;font-size:8px;color:#fff;font-weight:bold">USA</div>
<div class="abs" style="left:809.6px;top:141px;font-size:8px;color:#fff;font-weight:bold">Mexico</div>
<div class="abs" style="left:707px;top:311.4px;font-size:8.2px;color:#fff;">Canada</div>
<div class="tbar" style="left:311px;top:354.4px;width:378.5px;">Weekly Revenue Trending</div>
<svg class="abs" style="left:0;top:340px" width="700" height="170" viewBox="0 340 700 170">
<line x1="338.8" x2="672.8" y1="392.4" y2="392.4" stroke="#e6e6e6" stroke-width="0.8"/>
<line x1="338.8" x2="672.8" y1="472.2" y2="472.2" stroke="#e6e6e6" stroke-width="0.8"/>
<g fill="#1ab5a5">
<rect x="339.49" y="459.27" width="4.92" height="12.93"/>
<rect x="345.80" y="429.91" width="4.92" height="42.29"/>
<rect x="352.10" y="423.20" width="4.92" height="49.00"/>
<rect x="358.40" y="438.68" width="4.92" height="33.52"/>
<rect x="364.70" y="453.53" width="4.92" height="18.67"/>
<rect x="371.00" y="428.15" width="4.92" height="44.05"/>
<rect x="377.30" y="427.67" width="4.92" height="44.53"/>
<rect x="383.61" y="440.28" width="4.92" height="31.92"/>
<rect x="389.91" y="441.40" width="4.92" height="30.80"/>
<rect x="396.21" y="435.65" width="4.92" height="36.55"/>
<rect x="402.51" y="436.61" width="4.92" height="35.59"/>
<rect x="408.81" y="431.66" width="4.92" height="40.54"/>
<rect x="415.12" y="438.68" width="4.92" height="33.52"/>
<rect x="421.42" y="446.82" width="4.92" height="25.38"/>
<rect x="427.72" y="429.43" width="4.92" height="42.77"/>
<rect x="434.02" y="437.09" width="4.92" height="35.11"/>
<rect x="440.32" y="448.26" width="4.92" height="23.94"/>
<rect x="446.63" y="430.70" width="4.92" height="41.50"/>
<rect x="452.93" y="428.15" width="4.92" height="44.05"/>
<rect x="459.23" y="441.88" width="4.92" height="30.32"/>
<rect x="465.53" y="435.65" width="4.92" height="36.55"/>
<rect x="471.83" y="437.41" width="4.92" height="34.79"/>
<rect x="478.13" y="443.31" width="4.92" height="28.89"/>
<rect x="484.44" y="444.59" width="4.92" height="27.61"/>
<rect x="490.74" y="429.11" width="4.92" height="43.09"/>
<rect x="497.04" y="429.43" width="4.92" height="42.77"/>
<rect x="503.34" y="438.68" width="4.92" height="33.52"/>
<rect x="509.64" y="444.59" width="4.92" height="27.61"/>
<rect x="515.95" y="435.65" width="4.92" height="36.55"/>
<rect x="522.25" y="416.50" width="4.92" height="55.70"/>
<rect x="528.55" y="451.77" width="4.92" height="20.43"/>
<rect x="534.85" y="433.42" width="4.92" height="38.78"/>
<rect x="541.15" y="437.41" width="4.92" height="34.79"/>
<rect x="547.46" y="431.66" width="4.92" height="40.54"/>
<rect x="553.76" y="437.41" width="4.92" height="34.79"/>
<rect x="560.06" y="444.11" width="4.92" height="28.09"/>
<rect x="566.36" y="431.18" width="4.92" height="41.02"/>
<rect x="572.66" y="438.68" width="4.92" height="33.52"/>
<rect x="578.96" y="428.15" width="4.92" height="44.05"/>
<rect x="585.27" y="441.40" width="4.92" height="30.80"/>
<rect x="591.57" y="429.91" width="4.92" height="42.29"/>
<rect x="597.87" y="444.59" width="4.92" height="27.61"/>
<rect x="604.17" y="456.24" width="4.92" height="15.96"/>
<rect x="610.47" y="424.48" width="4.92" height="47.72"/>
<rect x="616.78" y="423.20" width="4.92" height="49.00"/>
<rect x="623.08" y="424.96" width="4.92" height="47.24"/>
<rect x="629.38" y="443.31" width="4.92" height="28.89"/>
<rect x="635.68" y="424.48" width="4.92" height="47.72"/>
<rect x="641.98" y="434.37" width="4.92" height="37.83"/>
<rect x="648.29" y="400.38" width="4.92" height="71.82"/>
<rect x="654.59" y="436.13" width="4.92" height="36.07"/>
<rect x="660.89" y="431.66" width="4.92" height="40.54"/>
<rect x="667.19" y="454.80" width="4.92" height="17.40"/>
</g>
<g font-size="7.6" fill="#707070" font-family="Liberation Sans, sans-serif">
<text x="314.5" y="395">$50K</text><text x="319" y="475">$0K</text>
<text x="330.5" y="483.3">Jan 1998</text>
<text x="411" y="483.3">Apr 1998</text>
<text x="493.5" y="483.3">Jul 1998</text>
<text x="576" y="483.3">Oct 1998</text>
</g></svg>
<div class="tbar" style="left:704px;top:354.3px;width:182.5px;">Revenue vs. Target</div>
<svg class="abs" style="left:690px;top:370px" width="209" height="140" viewBox="690 370 209 140">
<path d="M708.10,473.70 A87.6,87.6 0 0 1 883.30,473.70 L857.10,473.70 A61.4,61.4 0 0 0 734.30,473.70 Z" fill="#e9e9e9"/>
<path d="M708.10,473.70 A87.6,87.6 0 0 1 795.09,386.10 L795.27,412.30 A61.4,61.4 0 0 0 734.30,473.70 Z" fill="#1ab5a5"/>
<line x1="796.0" x2="796.0" y1="386.1" y2="412.3" stroke="#374649" stroke-width="1.3"/>
<text x="766.9" y="382" font-size="6.7" fill="#666" font-family="Liberation Sans, sans-serif">$119.48K</text>
<g fill="none" stroke="#404040" stroke-width="1.55" stroke-linejoin="round"><g transform="translate(760.4,447.6) scale(0.9087,0.7071)"><path d="M13,5.8 C12.5,2.5 10.2,0.75 7,0.75 C3.5,0.75 1.1,3 1.1,7 C1.1,10.8 3.4,12.4 7,13.7 C10.6,15 13.2,16.6 13.2,20.8 C13.2,25 10.6,27.25 7,27.25 C3.4,27.25 1,25.4 0.5,22 M7,-2.6 L7,30.6" vector-effect="non-scaling-stroke"/></g><g transform="translate(776.0,447.6) scale(0.9087,0.7071)"><path d="M0.6,6.2 L6.2,0.9 L6.2,28" vector-effect="non-scaling-stroke"/></g><g transform="translate(786.3,447.6) scale(0.9087,0.7071)"><path d="M1,6.6 C1.2,2.8 3.7,0.75 7,0.75 C10.6,0.75 13,3.2 13,7.2 C13,10 11.8,12 9.8,14.8 L1,27.25 L13.6,27.25" vector-effect="non-scaling-stroke"/></g><g transform="translate(801.7,447.6) scale(0.9087,0.7071)"><rect x="0.9" y="0.75" width="12.2" height="26.5" rx="6.1" ry="6.6" vector-effect="non-scaling-stroke"/></g><g transform="translate(817.5,447.6) scale(0.9087,0.7071)"><path d="M1,0 L1,28 M13.6,0 L1,17.6 M5.6,11.2 L14.4,28" vector-effect="non-scaling-stroke"/></g></g>
</svg>
</body></html>
